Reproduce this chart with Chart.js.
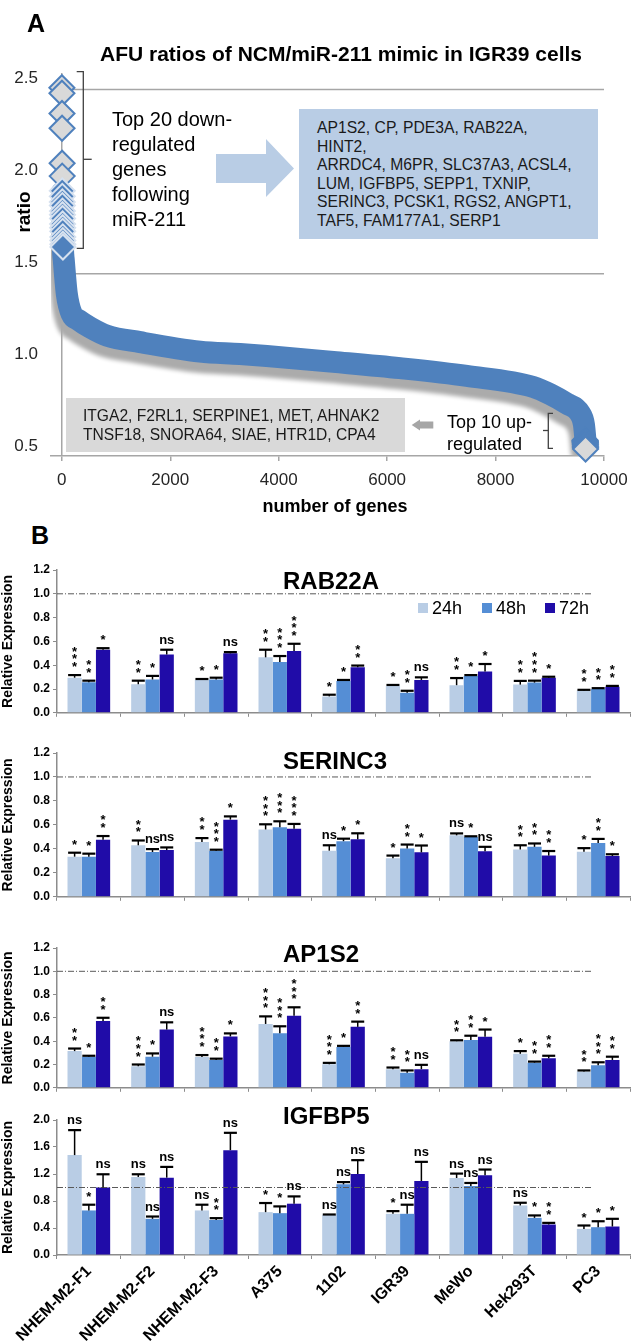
<!DOCTYPE html>
<html>
<head>
<meta charset="utf-8">
<script src="https://cdn.jsdelivr.net/npm/chart.js@4.4.1/dist/chart.umd.min.js"></script>
<style>
  body { margin: 0; background: #fff; }
  #page { position: relative; width: 640px; height: 1343px; overflow: hidden;
          font-family: "Liberation Sans", Arial, sans-serif; color: #000; }
  canvas, .t, svg { position: absolute; }
  .t { white-space: nowrap; line-height: 1; }
  .box { position: absolute; }
</style>
</head>
<body>
<div id="page">
  <canvas id="cA" width="640" height="520" style="left:0;top:0"></canvas>
  <canvas id="cB1" width="640" height="168" style="left:0;top:555px"></canvas>
  <canvas id="cB2" width="640" height="169" style="left:0;top:738px"></canvas>
  <canvas id="cB3" width="640" height="165" style="left:0;top:933px"></canvas>
  <canvas id="cB4" width="640" height="245" style="left:0;top:1098px"></canvas>

  <!-- panel A annotations -->
  <div class="t" style="left:27px;top:11px;font-weight:bold;font-size:25px">A</div>
  <div class="t" style="left:341px;top:43px;font-weight:bold;font-size:21px;transform:translateX(-50%)">AFU ratios of NCM/miR-211 mimic in IGR39 cells</div>
  <div class="t" style="left:23px;top:212px;font-weight:bold;font-size:19px;transform:translate(-50%,-50%) rotate(-90deg)">ratio</div>
  <div class="t" style="left:335px;top:506px;font-weight:bold;font-size:18px;transform:translate(-50%,-50%)">number of genes</div>

  <div class="t" style="left:112px;top:107px;font-size:20px;line-height:25px">Top 20 down-<br>regulated<br>genes<br>following<br>miR-211</div>

  <div class="box" style="left:299px;top:109px;width:299px;height:130px;background:#b9cde5"></div>
  <div class="t" style="left:317px;top:119px;font-size:15.7px;line-height:18.6px;color:#1a1a1a">AP1S2, CP, PDE3A, RAB22A,<br>HINT2,<br>ARRDC4, M6PR, SLC37A3, ACSL4,<br>LUM, IGFBP5, SEPP1, TXNIP,<br>SERINC3, PCSK1, RGS2, ANGPT1,<br>TAF5, FAM177A1, SERP1</div>

  <div class="box" style="left:66px;top:398px;width:339px;height:54px;background:#d9d9d9"></div>
  <div class="t" style="left:83px;top:407px;font-size:15.6px;line-height:18.5px;color:#1a1a1a">ITGA2, F2RL1, SERPINE1, MET, AHNAK2<br>TNSF18, SNORA64, SIAE, HTR1D, CPA4</div>

  <div class="t" style="left:447px;top:411px;font-size:18px;line-height:22px">Top 10 up-<br>regulated</div>

  <svg width="640" height="520" style="left:0;top:0">
    <polyline points="76.7,71.7 83.3,71.7 83.3,248.3 76.7,248.3" fill="none" stroke="#404040" stroke-width="1.3"/>
    <line x1="83.3" y1="159.3" x2="91.7" y2="159.3" stroke="#404040" stroke-width="1.3"/>
    <polyline points="553,413.3 548.3,413.3 548.3,448.3 553,448.3" fill="none" stroke="#404040" stroke-width="1.3"/>
    <line x1="543" y1="430.5" x2="548.3" y2="430.5" stroke="#404040" stroke-width="1.3"/>
    <polygon points="216,154 266,154 266,139 294,168.5 266,197 266,183 216,183" fill="#b9cde5"/>
    <polygon points="411.7,425 420,419.5 420,421.5 433.3,421.5 433.3,428.5 420,428.5 420,430.5" fill="#a6a6a6"/>
  </svg>

  <div class="t" style="left:31px;top:523px;font-weight:bold;font-size:25px">B</div>
</div>

<script>
// ---------------- Panel A: sorted AFU ratios ----------------
const xTicksA = [0, 2000, 4000, 6000, 8000, 10000];
const yTicksA = [0.5, 1.0, 1.5, 2.0, 2.5];
const curveGenes  = [0, 20, 37, 92, 184, 300, 522, 830, 1444, 2550, 3287, 3780, 5008, 6238, 7468, 8696, 9004, 9312, 9557, 9630, 9660];
const curveRatios = [1.88, 1.58, 1.51, 1.33, 1.22, 1.19, 1.148, 1.104, 1.068, 1.017, 1.004, 0.993, 0.961, 0.927, 0.885, 0.825, 0.786, 0.735, 0.681, 0.62, 0.53];
const topDownRanks  = [1, 2, 3, 4, 5, 6, 7, 8, 9, 10, 11, 12, 13, 14, 15, 16, 17, 18, 19, 20];
const topDownRatios = [2.45, 2.42, 2.31, 2.23, 2.04, 1.97, 1.89, 1.86, 1.83, 1.81, 1.78, 1.76, 1.74, 1.71, 1.69, 1.67, 1.64, 1.62, 1.60, 1.585];
const topUpRanks  = [9651, 9652, 9653, 9654, 9655, 9656, 9657, 9658, 9659, 9660];
const topUpRatios = [0.536, 0.532, 0.528, 0.524, 0.52, 0.515, 0.51, 0.503, 0.495, 0.488];
const cutoffRatios = [2.44, 1.44];

// ---------------- Panel B: qPCR relative expression ----------------
const cellLines = ['NHEM-M2-F1', 'NHEM-M2-F2', 'NHEM-M2-F3', 'A375', '1102', 'IGR39', 'MeWo', 'Hek293T', 'PC3'];
const timeLabels = ['24h', '48h', '72h'];

const rab22aMean = [
  [0.295, 0.24, 0.276, 0.466, 0.138, 0.226, 0.232, 0.237, 0.188],
  [0.257, 0.28, 0.28, 0.427, 0.268, 0.168, 0.309, 0.254, 0.199],
  [0.53, 0.49, 0.50, 0.52, 0.383, 0.276, 0.348, 0.295, 0.218]];
const rab22aErr = [
  [0.022, 0.03, 0.008, 0.064, 0.014, 0.008, 0.06, 0.031, 0.005],
  [0.013, 0.03, 0.015, 0.05, 0.008, 0.017, 0.008, 0.016, 0.008],
  [0.013, 0.04, 0.01, 0.06, 0.014, 0.022, 0.062, 0.008, 0.008]];
const rab22aSig = [
  ['***', '**', '*', '**', '*', '*', '**', '**', '**'],
  ['**', '*', '*', '***', '*', '**', '*', '***', '**'],
  ['*', 'ns', 'ns', '***', '**', 'ns', '*', '*', '**']];

const serinc3Mean = [
  [0.335, 0.43, 0.458, 0.562, 0.385, 0.322, 0.513, 0.395, 0.376],
  [0.335, 0.374, 0.385, 0.58, 0.464, 0.404, 0.5, 0.417, 0.45],
  [0.477, 0.39, 0.644, 0.567, 0.48, 0.371, 0.38, 0.344, 0.341]];
const serinc3Err = [
  [0.033, 0.04, 0.032, 0.043, 0.045, 0.022, 0.016, 0.035, 0.03],
  [0.025, 0.024, 0.008, 0.05, 0.021, 0.032, 0.005, 0.028, 0.033],
  [0.03, 0.022, 0.027, 0.041, 0.05, 0.057, 0.037, 0.038, 0.014]];
const serinc3Sig = [
  ['*', '**', '**', '***', 'ns', '*', 'ns', '**', '*'],
  ['*', 'ns', '***', '***', '*', '**', '*', '**', '**'],
  ['**', 'ns', '*', '***', '*', '*', 'ns', '**', '*']];

const ap1s2Mean = [
  [0.315, 0.185, 0.264, 0.548, 0.202, 0.16, 0.40, 0.292, 0.14],
  [0.267, 0.267, 0.239, 0.469, 0.351, 0.129, 0.41, 0.216, 0.194],
  [0.573, 0.5, 0.441, 0.618, 0.523, 0.16, 0.438, 0.253, 0.239]];
const ap1s2Err = [
  [0.022, 0.015, 0.017, 0.065, 0.012, 0.014, 0.008, 0.023, 0.009],
  [0.008, 0.028, 0.011, 0.059, 0.009, 0.02, 0.037, 0.009, 0.025],
  [0.028, 0.062, 0.026, 0.073, 0.045, 0.037, 0.062, 0.022, 0.028]];
const ap1s2Sig = [
  ['**', '***', '***', '***', '***', '**', '**', '*', '**'],
  ['*', '*', '**', '***', '*', '**', '**', '**', '***'],
  ['**', 'ns', '*', '***', '**', 'ns', '*', '**', '**']];

const igfbp5Mean = [
  [1.48, 1.156, 0.66, 0.635, 0.595, 0.61, 1.141, 0.734, 0.387],
  [0.66, 0.536, 0.52, 0.62, 1.047, 0.61, 1.022, 0.55, 0.412],
  [1.0, 1.146, 1.553, 0.76, 1.2, 1.097, 1.18, 0.452, 0.422]];
const igfbp5Err = [
  [0.37, 0.04, 0.085, 0.135, 0.005, 0.04, 0.065, 0.04, 0.05],
  [0.085, 0.034, 0.026, 0.10, 0.033, 0.135, 0.045, 0.036, 0.088],
  [0.196, 0.159, 0.257, 0.108, 0.205, 0.283, 0.086, 0.024, 0.114]];
const igfbp5Sig = [
  ['ns', 'ns', 'ns', '*', 'ns', '*', 'ns', 'ns', '*'],
  ['*', 'ns', '**', '*', 'ns', 'ns', 'ns', '*', '*'],
  ['ns', 'ns', 'ns', 'ns', 'ns', 'ns', 'ns', '**', '*']];

const refLevel = 1.0;

// ---------------- styling ----------------
const FONT = '"Liberation Sans", Arial, sans-serif';
Chart.defaults.font.family = FONT;
Chart.defaults.color = '#000';
Chart.defaults.animation = false;

const blue = '#4f81bd';
const axisGray = '#8c8c8c';
const timeColors = ['#b9cde5', '#558ed5', '#200ca8'];

// grey drop shadow behind the gene curve
const shadowPlugin = {
  id: 'bandShadow',
  beforeDatasetDraw(chart, args) {
    if (!chart.data.datasets[args.index].shadow) return;
    const r = chart.currentDevicePixelRatio || 1;
    const ctx = chart.ctx;
    ctx.save();
    ctx.shadowColor = '#ababab';
    ctx.shadowOffsetX = -4 * r;
    ctx.shadowOffsetY = 10 * r;
    ctx.shadowBlur = 4 * r;
  },
  afterDatasetDraw(chart, args) {
    if (chart.data.datasets[args.index].shadow) chart.ctx.restore();
  }
};

const pts = (xs, ys) => xs.map((x, i) => ({ x: x, y: ys[i] }));

new Chart(document.getElementById('cA'), {
  type: 'scatter',
  data: {
    datasets: [
      ...cutoffRatios.map(v => ({
        type: 'line', data: [{ x: 0, y: v }, { x: 10000, y: v }],
        borderColor: '#a6a6a6', borderWidth: 1.5, pointRadius: 0, order: 5
      })),
      {
        type: 'line', label: 'all genes', data: pts(curveGenes, curveRatios),
        borderColor: blue, borderWidth: 22, pointRadius: 0,
        cubicInterpolationMode: 'monotone', borderCapStyle: 'round', borderJoinStyle: 'round',
        order: 3, shadow: true
      },
      {
        label: 'top 20 down', data: pts(topDownRanks, topDownRatios),
        pointStyle: 'rectRot', pointRadius: 12.5,
        pointBackgroundColor: c => (c.raw && c.raw.y >= 1.95) ? '#d9d9d9' : blue,
        pointBorderColor: c => (c.raw && c.raw.y >= 1.95) ? blue : '#d6e1ef',
        pointBorderWidth: 2, order: 1, clip: false
      },
      {
        label: 'top 10 up', data: pts(topUpRanks, topUpRatios),
        pointStyle: 'rectRot', pointRadius: 12.5,
        pointBackgroundColor: '#d9d9d9', pointBorderColor: blue,
        pointBorderWidth: 2, order: 1, clip: false
      }
    ]
  },
  options: {
    responsive: false,
    layout: { padding: { top: 73, right: 36, left: 0, bottom: 0 } },
    plugins: { legend: { display: false }, tooltip: { enabled: false } },
    scales: {
      x: {
        type: 'linear', min: -200, max: 10000,
        afterBuildTicks: s => { s.ticks = xTicksA.map(v => ({ value: v })); },
        afterFit: s => { s.height = 64; },
        ticks: { font: { size: 17 }, color: '#262626', padding: 9, callback: v => String(v) },
        grid: {
          color: c => (c.tick && c.tick.value === 0) ? '#a6a6a6' : 'rgba(0,0,0,0)',
          lineWidth: 1.5, tickLength: 5, tickColor: '#a6a6a6'
        },
        border: { color: '#a6a6a6', width: 1.5 }
      },
      y: {
        min: 0.45, max: 2.53,
        afterBuildTicks: s => { s.ticks = yTicksA.map(v => ({ value: v })); },
        afterFit: s => { s.width = 51; },
        ticks: { font: { size: 17 }, color: '#262626', padding: 5, callback: v => v.toFixed(1) },
        grid: { display: false },
        border: { display: false }
      }
    }
  },
  plugins: [shadowPlugin]
});

// ---------------- bar panels ----------------
const refLinePlugin = {
  id: 'refLine',
  afterDatasetsDraw(chart) {
    const ctx = chart.ctx, a = chart.chartArea;
    const y = chart.scales.y.getPixelForValue(refLevel);
    ctx.save();
    ctx.strokeStyle = '#595959';
    ctx.lineWidth = 1;
    ctx.setLineDash([6, 2, 1, 2]);
    ctx.beginPath();
    ctx.moveTo(a.left, y);
    ctx.lineTo(a.left + 0.935 * (a.right - a.left), y);
    ctx.stroke();
    ctx.restore();
  }
};

const errorBarPlugin = {
  id: 'errorBars',
  afterDatasetsDraw(chart) {
    const ctx = chart.ctx, ys = chart.scales.y;
    ctx.save();
    ctx.strokeStyle = '#000';
    chart.data.datasets.forEach((ds, di) => {
      chart.getDatasetMeta(di).data.forEach((bar, i) => {
        const top = ys.getPixelForValue(ds.data[i]);
        const cap = ys.getPixelForValue(ds.data[i] + ds.errors[i]);
        ctx.lineWidth = 1.5;
        ctx.beginPath(); ctx.moveTo(bar.x, top); ctx.lineTo(bar.x, cap); ctx.stroke();
        ctx.lineWidth = 2.2;
        ctx.beginPath(); ctx.moveTo(bar.x - 6.5, cap); ctx.lineTo(bar.x + 6.5, cap); ctx.stroke();
      });
    });
    ctx.restore();
  }
};

const sigPlugin = {
  id: 'sigMarks',
  afterDatasetsDraw(chart) {
    const ctx = chart.ctx, ys = chart.scales.y;
    ctx.save();
    ctx.fillStyle = '#000';
    ctx.textAlign = 'center';
    ctx.textBaseline = 'alphabetic';
    chart.data.datasets.forEach((ds, di) => {
      chart.getDatasetMeta(di).data.forEach((bar, i) => {
        const cap = ys.getPixelForValue(ds.data[i] + ds.errors[i]);
        const mark = ds.sig[i];
        ctx.font = 'bold 13px ' + FONT;
        if (mark === 'ns') {
          ctx.fillText('ns', bar.x, cap - 6);
        } else {
          for (let k = 0; k < mark.length; k++) {
            ctx.fillText('*', bar.x, cap - 4 - 7.6 * k);
          }
        }
      });
    });
    ctx.restore();
  }
};

const geneTitlePlugin = {
  id: 'geneTitle',
  afterDraw(chart, args, opts) {
    const ctx = chart.ctx;
    ctx.save();
    ctx.font = 'bold 24px ' + FONT;
    ctx.fillStyle = '#000';
    ctx.textAlign = 'left';
    ctx.textBaseline = 'middle';
    ctx.fillText(opts.text, 283, chart.chartArea.top + opts.dy);
    ctx.restore();
  }
};

const timeLegendPlugin = {
  id: 'timeLegend',
  afterDraw(chart, args, opts) {
    if (!opts.show) return;
    const ctx = chart.ctx;
    const y = chart.chartArea.top + opts.dy;
    ctx.save();
    ctx.font = '18px ' + FONT;
    ctx.textBaseline = 'middle';
    ctx.textAlign = 'left';
    chart.data.datasets.forEach((ds, i) => {
      const x = opts.xs[i];
      ctx.fillStyle = ds.backgroundColor;
      ctx.fillRect(x, y - 5, 10, 10);
      ctx.fillStyle = '#000';
      ctx.fillText(ds.label, x + 14, y + 1);
    });
    ctx.restore();
  }
};

function makeBarChart(id, means, errs, sigs, o) {
  return new Chart(document.getElementById(id), {
    type: 'bar',
    data: {
      labels: cellLines,
      datasets: timeLabels.map((t, k) => ({
        label: t,
        data: means[k],
        errors: errs[k],
        sig: sigs[k],
        backgroundColor: timeColors[k],
        barPercentage: 1.0,
        categoryPercentage: 0.67
      }))
    },
    options: {
      responsive: false,
      layout: { padding: { top: o.padTop, right: 10, left: 0, bottom: 0 } },
      plugins: {
        legend: { display: false },
        tooltip: { enabled: false },
        geneTitle: { text: o.title, dy: o.titleDy },
        timeLegend: { show: !!o.legend, dy: 38, xs: [418, 482, 545] }
      },
      scales: {
        x: {
          grid: { offset: true, drawOnChartArea: false, tickLength: 4, tickColor: axisGray },
          border: { color: axisGray, width: 1.5 },
          ticks: {
            display: !!o.labels, autoSkip: false, minRotation: 45, maxRotation: 45,
            font: { weight: 'bold', size: 16 }, padding: 3
          },
          afterFit: s => { s.height = o.xHeight; }
        },
        y: {
          min: 0, max: o.yMax,
          ticks: { stepSize: o.yStep, font: { weight: 'bold', size: 12 }, padding: 3,
                   callback: v => v.toFixed(1) },
          grid: { drawOnChartArea: false, tickLength: 4, tickColor: axisGray },
          border: { color: axisGray, width: 1.5 },
          title: { display: true, text: 'Relative Expression', font: { weight: 'bold', size: 14 },
                   padding: { top: 0, bottom: 2 } },
          afterFit: s => { s.width = 57; }
        }
      }
    },
    plugins: [refLinePlugin, errorBarPlugin, sigPlugin, geneTitlePlugin, timeLegendPlugin]
  });
}

makeBarChart('cB1', rab22aMean, rab22aErr, rab22aSig,
  { title: 'RAB22A', titleDy: 12, padTop: 15, xHeight: 8, yMax: 1.2, yStep: 0.2, legend: true });
makeBarChart('cB2', serinc3Mean, serinc3Err, serinc3Sig,
  { title: 'SERINC3', titleDy: 9, padTop: 15, xHeight: 8, yMax: 1.2, yStep: 0.2 });
makeBarChart('cB3', ap1s2Mean, ap1s2Err, ap1s2Sig,
  { title: 'AP1S2', titleDy: 7, padTop: 15, xHeight: 8, yMax: 1.2, yStep: 0.2 });
makeBarChart('cB4', igfbp5Mean, igfbp5Err, igfbp5Sig,
  { title: 'IGFBP5', titleDy: -3, padTop: 22, xHeight: 88, yMax: 2.0, yStep: 0.4, labels: true });
</script>
</body>
</html>
